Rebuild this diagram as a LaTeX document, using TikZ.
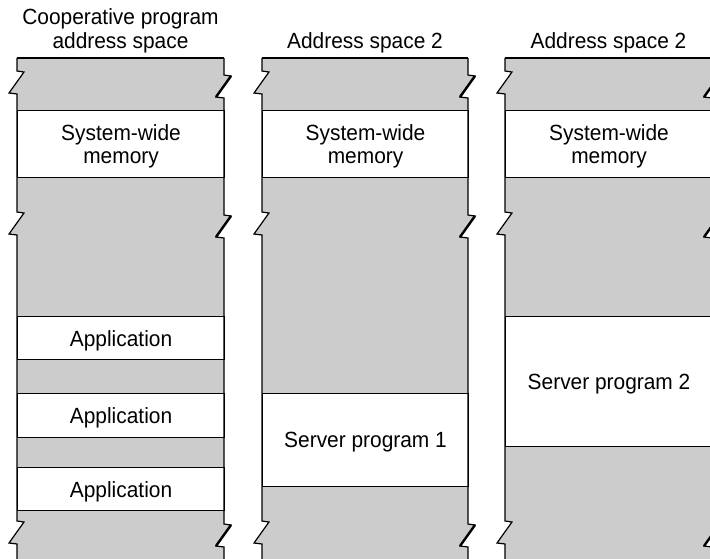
\documentclass[tikz,border=0pt]{standalone}
\usepackage{fontspec}
\setmainfont[FakeStretch=0.95]{Liberation Sans}
\definecolor{memgray}{RGB}{204,204,204}
\newcommand\leftside[1]{(#1,58) -- (#1,71) -- ++(7,1) -- ++(-15,21) -- ++(8,1) -- (#1,212) -- ++(7,1) -- ++(-15,21) -- ++(8,1) -- (#1,521) -- ++(7,1) -- ++(-15,21) -- ++(8,1) -- (#1,570)}
\newcommand\rightside[1]{(#1,58) -- (#1,75) -- ++(7,1) -- ++(-15,21) -- ++(8,1) -- (#1,215) -- ++(7,1) -- ++(-15,21) -- ++(8,1) -- (#1,524) -- ++(7,1) -- ++(-15,21) -- ++(8,1) -- (#1,570)}
\newcommand\rightup[1]{(#1,570) -- (#1,547) -- ++(-8,-1) -- ++(15,-21) -- ++(-7,-1) -- (#1,238) -- ++(-8,-1) -- ++(15,-21) -- ++(-7,-1) -- (#1,98) -- ++(-8,-1) -- ++(15,-21) -- ++(-7,-1) -- (#1,58)}
\newcommand\rightdiags[1]{\draw[diagline] ($(#1,76)+(7,0)$) -- ++(-15,21);
  \draw[diagline] ($(#1,216)+(7,0)$) -- ++(-15,21);
  \draw[diagline] ($(#1,525)+(7,0)$) -- ++(-15,21);}
\usetikzlibrary{calc}
\begin{document}
\begin{tikzpicture}[x=1pt,y=-1pt,
  txt/.style={font=\fontsize{22}{23.5}\selectfont, align=center, inner sep=0pt},
  membox/.style={draw=black, line width=1.1pt, fill=white, anchor=north west, inner sep=0pt,
    font=\fontsize{22}{23.5}\selectfont, align=center, text depth=0pt},
  coledge/.style={draw=black, line width=1.2pt, line join=miter},
  diagline/.style={draw=black, line width=2.4pt, line cap=butt},
]
\useasboundingbox (0,0) rectangle (710,558);
\clip (0,0) rectangle (710,558);

% column backgrounds
\fill[memgray] \leftside{17} -- \rightup{224} -- cycle;
\fill[memgray] \leftside{262} -- \rightup{468} -- cycle;
\fill[memgray] \leftside{505} -- \rightup{712} -- cycle;

% column titles
\node[txt] (t1) at (120.5,31) {Cooperative program\\address space};
\node[txt, anchor=base] (t2) at (365,48) {Address space 2};
\node[txt, anchor=base] (t3) at (608.5,48) {Address space 2};

% column 1
\node[membox, minimum width=207pt, minimum height=67pt] (sw1) at (17,110) {System-wide\\memory};
\node[membox, minimum width=207pt, minimum height=43pt] (app1) at (17,316) {Application};
\node[membox, minimum width=207pt, minimum height=44pt] (app2) at (17,393) {Application};
\node[membox, minimum width=207pt, minimum height=43pt] (app3) at (17,467) {Application};

% column 2
\node[membox, minimum width=206pt, minimum height=67pt] (sw2) at (262,110) {System-wide\\memory};
\node[membox, minimum width=206pt, minimum height=93pt] (srv1) at (262,393) {Server program 1};

% column 3
\node[membox, minimum width=207pt, minimum height=67pt] (sw3) at (505,110) {System-wide\\memory};
\node[membox, minimum width=207pt, minimum height=130pt] (srv2) at (505,316) {Server program 2};

% column outlines
\foreach \a/\b in {17/224, 262/468, 505/712}{
  \draw[coledge] (\a,58) -- (\b,58);
  \draw[coledge] \leftside{\a};
  \draw[coledge] \rightside{\b};
}
\rightdiags{224}
\rightdiags{468}
\rightdiags{712}
\end{tikzpicture}
\end{document}
